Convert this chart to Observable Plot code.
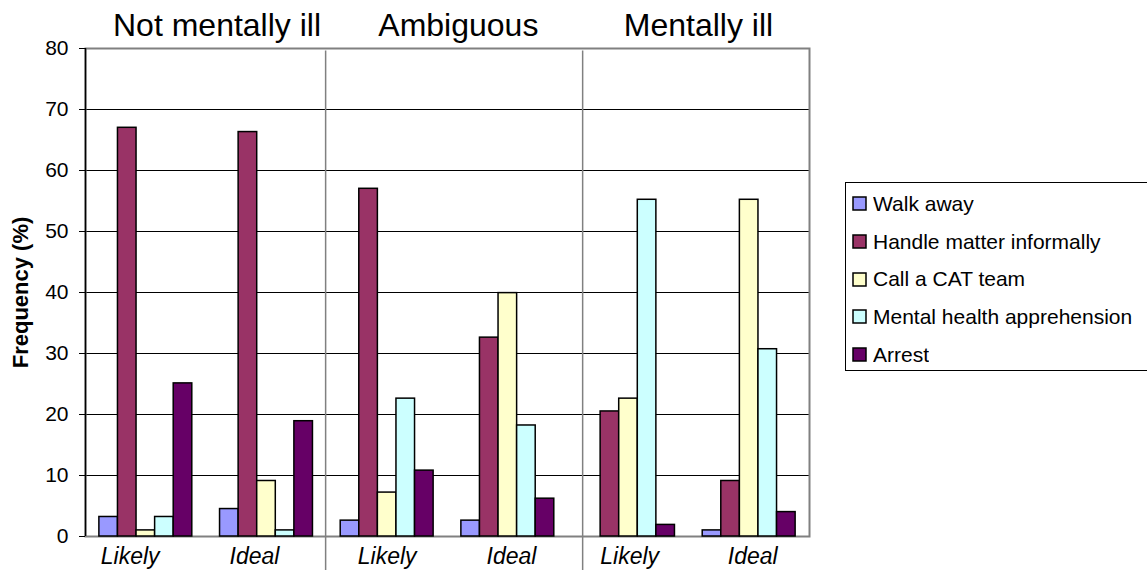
<!DOCTYPE html>
<html><head><meta charset="utf-8">
<script src="https://cdn.jsdelivr.net/npm/d3@7"></script>
<script src="https://cdn.jsdelivr.net/npm/@observablehq/plot@0.6"></script>
<style>
body{margin:0;background:#fff;font-family:"Liberation Sans",Arial,sans-serif;}
#wrap{position:relative;width:1147px;height:570px;overflow:hidden;}
#legend{position:absolute;left:845px;top:182px;width:310px;height:189px;border:1px solid #000;box-sizing:border-box;padding:2px 0 0 7px;background:#fff;}
#legend .lg-swatches{font-family:"Liberation Sans",Arial,sans-serif;font-size:21px;margin:0;color:#000;}
#legend .lg-swatch{height:37.7px;display:flex;align-items:center;padding-bottom:0;}
#legend .lg-swatch svg{margin-right:7px;overflow:visible;}
#legend .lg-swatch svg rect{stroke:#000;stroke-width:1.5px;}
</style>
</head><body>
<div id="wrap"><div id="chart"></div><div id="legend"></div></div>
<script>
const groups = ["Not mentally ill", "Ambiguous", "Mentally ill"];
const conditions = ["Likely", "Ideal"];
const series = ["Walk away", "Handle matter informally", "Call a CAT team", "Mental health apprehension", "Arrest"];
const colors = ["#9999FF", "#993366", "#FFFFCC", "#CCFFFF", "#660066"];
// values per category: NMI-Likely, NMI-Ideal, Amb-Likely, Amb-Ideal, MI-Likely, MI-Ideal
const walkAway = [3.2, 4.5, 2.6, 2.6, 0, 1.0];
const handleInformally = [67.0, 66.3, 57.0, 32.6, 20.5, 9.1];
const callCAT = [1.0, 9.1, 7.2, 39.9, 22.6, 55.2];
const mhApprehension = [3.2, 1.0, 22.6, 18.2, 55.2, 30.7];
const arrest = [25.1, 18.9, 10.8, 6.2, 1.9, 4.0];
const yTicks = [0, 10, 20, 30, 40, 50, 60, 70, 80];
const dividers = [1.99, 4.12];
const conditionLabelX = [0.37, 1.40, 2.50, 3.53, 4.51, 5.53];
const groupLabelX = [1.09, 3.09, 5.08];

const seriesValues = [walkAway, handleInformally, callCAT, mhApprehension, arrest];
const nCat = groups.length * conditions.length;
const gap = 0.23, bw = (1 - gap) / series.length;
const rows = [];
for (let i = 0; i < nCat; i++) {
  series.forEach((s, k) => {
    const x1 = i + gap / 2 + k * bw;
    rows.push({cat: i, series: s, value: seriesValues[k][i], x1, x2: x1 + bw});
  });
}
const font = "Liberation Sans, Arial, sans-serif";

const chart = Plot.plot({
  width: 1147, height: 570,
  marginLeft: 85, marginRight: 338, marginTop: 48, marginBottom: 34,
  style: {fontFamily: font, fontSize: "20px", color: "#000", background: "#fff", overflow: "visible"},
  x: {domain: [0, nCat], axis: null},
  y: {domain: [0, 80], axis: null},
  color: {domain: series, range: colors},
  marks: [
    Plot.ruleY(yTicks.filter(d => d > 0 && d < 80), {stroke: "#000", strokeWidth: 1}),
    Plot.ruleX(dividers, {y1: -5.6, y2: 79.6, stroke: "#808080", strokeWidth: 1.5}),
    Plot.frame({stroke: "#808080", strokeWidth: 2}),
    Plot.ruleX([0], {stroke: "#000", strokeWidth: 1.5}),
    Plot.rectY(rows, {x1: "x1", x2: "x2", y1: 0, y2: "value", fill: "series", stroke: "#000", strokeWidth: 1.5}),
    Plot.axisY(yTicks, {tickSize: 6, tickPadding: 11, fontSize: 21, stroke: "#000", label: null}),
    Plot.axisX(conditionLabelX, {tickSize: 0, tickPadding: 11, fontSize: 23, fontStyle: "italic", label: null,
      tickFormat: (d, i) => conditions[i % conditions.length]}),
    Plot.text(groups, {x: (d, i) => groupLabelX[i], frameAnchor: "top", lineAnchor: "middle", dy: -23, fontSize: 32, fill: "#000"}),
    Plot.text(["Frequency (%)"], {frameAnchor: "left", textAnchor: "middle", lineAnchor: "middle", dx: -65, rotate: -90, fontWeight: "bold", fontSize: 22, fill: "#000"})
  ]
});
document.getElementById("chart").appendChild(chart);
const leg = chart.legend("color", {columns: 1, className: "lg", swatchSize: 13});
document.getElementById("legend").appendChild(leg);
</script>
</body></html>
